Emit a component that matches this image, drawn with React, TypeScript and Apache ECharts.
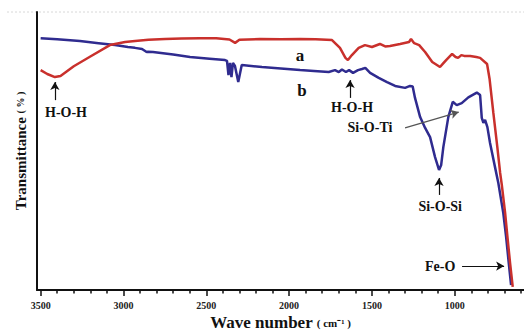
import { useEffect, useRef } from "react";
import * as echarts from "echarts";

// Spectrum a (red): [wavenumber cm-1, transmittance]
const seriesA: [number, number][] = [
  [3500, 79.1], [3460, 77.7], [3414, 76.6], [3380, 77.0], [3300, 80.5], [3200, 84.0],
  [3082, 88.1], [2990, 89.2], [2930, 89.6], [2849, 90.0], [2749, 90.3], [2650, 90.5],
  [2538, 90.6], [2440, 90.6], [2360, 90.1], [2326, 88.9], [2300, 90.0], [2176, 90.3],
  [2050, 90.2], [1934, 90.3], [1840, 90.2], [1741, 89.9], [1693, 87.1], [1660, 83.5],
  [1645, 82.7], [1621, 84.5], [1580, 87.1], [1542, 88.1], [1500, 87.4], [1452, 88.5],
  [1420, 87.6], [1391, 87.8], [1330, 88.5], [1276, 89.2], [1264, 90.3], [1245, 88.8],
  [1215, 88.1], [1179, 85.6], [1136, 82.0], [1089, 80.2], [1070, 81.5], [1052, 82.7],
  [1016, 84.9], [995, 83.8], [980, 83.5], [960, 84.5], [943, 84.2], [907, 84.2],
  [870, 83.8], [847, 83.5], [805, 81.3], [790, 76.0], [767, 63.7], [743, 51.4],
  [726, 42.1], [716, 37.8], [696, 27.7], [682, 19.1], [666, 9.7], [650, 1.1],
];

// Spectrum b (blue)
const seriesB: [number, number][] = [
  [3500, 90.6], [3400, 90.2], [3263, 89.6], [3150, 88.8], [3051, 88.1], [2973, 87.4],
  [2931, 87.1], [2888, 86.7], [2860, 85.6], [2852, 85.7], [2822, 85.6], [2700, 84.7],
  [2598, 83.8], [2480, 83.2], [2387, 82.7], [2375, 82.4], [2366, 77.3], [2357, 81.7],
  [2348, 76.6], [2339, 81.7], [2327, 80.6], [2307, 74.8], [2286, 80.9], [2164, 80.2],
  [2050, 79.7], [1934, 79.1], [1850, 78.8], [1761, 78.4], [1723, 79.1], [1700, 78.4],
  [1681, 79.3], [1657, 78.4], [1638, 79.1], [1614, 78.1], [1584, 79.1], [1560, 79.5],
  [1540, 79.9], [1511, 78.1], [1459, 76.3], [1409, 74.8], [1360, 73.4], [1300, 72.7],
  [1270, 73.4], [1254, 73.2], [1240, 69.1], [1209, 62.2], [1179, 58.3], [1149, 55.0],
  [1119, 47.8], [1095, 43.2], [1082, 45.0], [1069, 51.4], [1039, 62.2], [1012, 67.7],
  [988, 66.5], [958, 67.2], [918, 69.3], [867, 71.0], [847, 70.1], [837, 61.9],
  [827, 60.1], [817, 61.2], [803, 58.6], [787, 52.9], [757, 44.2], [737, 38.5],
  [707, 27.7], [690, 19.1], [674, 9.7], [660, 1.8],
];

const majorTicks = [3500, 3000, 2500, 2000, 1500, 1000];
const minorTicks = [
  3400, 3300, 3200, 3100, 2900, 2800, 2700, 2600, 2400, 2300, 2200, 2100,
  1900, 1800, 1700, 1600, 1400, 1300, 1200, 1100, 900, 800, 700, 600,
];

// Annotation labels (data coordinates)
const labelTexts = ["a", "b", "H-O-H", "H-O-H", "Si-O-Ti", "Si-O-Si", "Fe-O"];
const labelWave = [1934, 1922, 3347, 1620, 1512, 1088, 1088];
const labelT = [84.5, 71.9, 64.0, 65.5, 58.3, 30.2, 8.6];
const labelSize = [17, 17, 14, 14, 14, 14, 14];

// Annotation arrows: from -> to (data coordinates)
const arrowFrom: [number, number][] = [
  [3414, 68.3], [1632, 69.1], [1300, 58.3], [1095, 34.2], [956, 8.6],
];
const arrowTo: [number, number][] = [
  [3414, 74.8], [1632, 75.5], [976, 64.0], [1095, 40.3], [702, 8.6],
];
const arrowColor = ["#111", "#111", "#555", "#111", "#111"];

const FONT = '"Liberation Serif", "Times New Roman", serif';

export default function App() {
  const ref = useRef<HTMLDivElement>(null);
  useEffect(() => {
    if (!ref.current) return;
    const chart = echarts.init(ref.current, undefined, { renderer: "svg" });
    const xBase = {
      type: "value" as const,
      inverse: true,
      min: 582,
      max: 3522,
      position: "bottom" as const,
      splitLine: { show: false },
    };
    chart.setOption({
      animation: false,
      backgroundColor: "#fff",
      grid: { left: 37, right: 0, top: 12, bottom: 41, containLabel: false, outerBoundsMode: "none" },
      xAxis: [
        {
          ...xBase,
          axisLine: { show: true, onZero: false, lineStyle: { color: "#111", width: 2 } },
          axisTick: { show: true, customValues: majorTicks, length: 6, lineStyle: { color: "#111", width: 1.5 } },
          axisLabel: {
            customValues: majorTicks,
            formatter: (v: number) => String(Math.round(v)),
            color: "#222",
            fontFamily: FONT,
            fontWeight: "bold",
            fontSize: 10,
            margin: 10,
          },
          name: "Wave number {s|( cm⁻¹ )}",
          nameLocation: "middle",
          nameGap: 24,
          nameMoveOverlap: false,
          nameTextStyle: {
            fontFamily: FONT,
            fontWeight: "bold",
            fontSize: 17,
            color: "#111",
            rich: { s: { fontFamily: FONT, fontWeight: "bold", fontSize: 11, color: "#111" } },
          },
        },
        {
          ...xBase,
          axisLine: { show: false, onZero: false },
          axisTick: { show: true, customValues: minorTicks, length: 3.5, lineStyle: { color: "#111", width: 1.5 } },
          axisLabel: { show: false },
        },
      ],
      yAxis: {
        type: "value",
        min: 0,
        max: 100,
        axisLine: { show: true, lineStyle: { color: "#111", width: 2 } },
        axisTick: { show: false },
        axisLabel: { show: false },
        splitLine: { show: false },
        name: "Transmittance {s|( % )}",
        nameLocation: "middle",
        nameRotate: 90,
        nameGap: 9,
        nameMoveOverlap: false,
        nameTextStyle: {
          fontFamily: FONT,
          fontWeight: "bold",
          fontSize: 15,
          color: "#111",
          rich: { s: { fontFamily: FONT, fontWeight: "bold", fontSize: 10, color: "#111" } },
        },
      },
      graphic: [
        {
          type: "line",
          shape: { x1: 7, y1: 12, x2: 524, y2: 12 },
          style: { stroke: "#d8d8d8", lineWidth: 1, lineDash: [2, 2] },
          silent: true,
        },
      ],
      series: [
        {
          name: "b",
          type: "line",
          xAxisIndex: 0,
          data: seriesB,
          showSymbol: false,
          lineStyle: { color: "#2f2b8f", width: 2.5 },
          itemStyle: { color: "#2f2b8f" },
          z: 2,
          markLine: {
            silent: true,
            symbol: ["none", "arrow"],
            symbolSize: [7, 8],
            label: { show: false },
            data: arrowFrom.map((f, i) => [
              { coord: f, lineStyle: { color: arrowColor[i], width: 1.2, type: "solid" }, itemStyle: { color: "#111" } },
              { coord: arrowTo[i] },
            ]),
          },
          markPoint: {
            silent: true,
            symbol: "circle",
            symbolSize: 1,
            itemStyle: { color: "rgba(0,0,0,0)" },
            label: {
              show: true,
              position: "inside",
              formatter: "{b}",
              fontFamily: FONT,
              fontWeight: "bold",
              color: "#111",
            },
            data: labelTexts.map((t, i) => ({
              name: t,
              coord: [labelWave[i], labelT[i]],
              label: { fontSize: labelSize[i] },
            })),
          },
        },
        {
          name: "a",
          type: "line",
          xAxisIndex: 0,
          data: seriesA,
          showSymbol: false,
          lineStyle: { color: "#c9302c", width: 2.5 },
          itemStyle: { color: "#c9302c" },
          z: 3,
        },
      ],
    });
    return () => chart.dispose();
  }, []);
  return (
    <div
      ref={ref}
      style={{ position: "fixed", left: 0, top: 0, width: 524, height: 331, background: "#fff" }}
    />
  );
}
